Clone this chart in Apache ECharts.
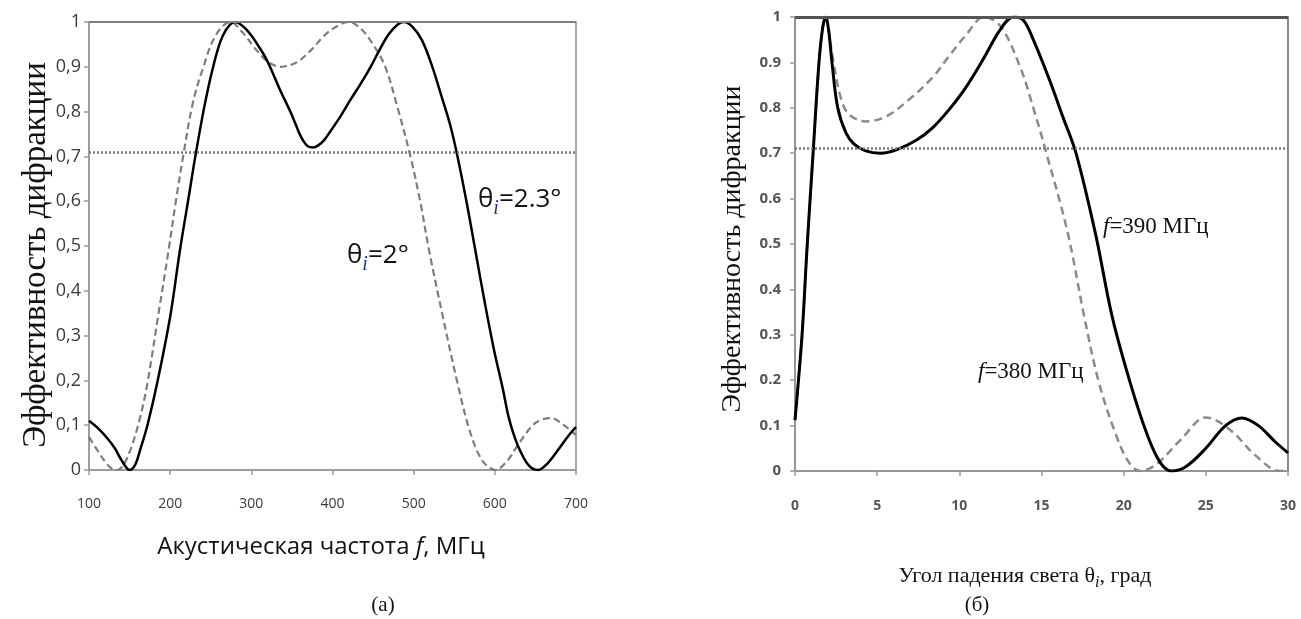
<!DOCTYPE html>
<html>
<head>
<meta charset="utf-8">
<title>Эффективность дифракции</title>
<script src="https://cdn.jsdelivr.net/npm/echarts@6/dist/echarts.min.js"></script>
<style>
  html, body { margin: 0; padding: 0; background: #fff; }
  #chart { width: 1301px; height: 619px; }
</style>
</head>
<body>
<div id="chart"></div>
<script>
// (а) diffraction efficiency vs acoustic frequency, MHz
const freqTheta23 = [100,110,122,132,140,150,157,163,172,184,200,212,222,231,242,253,265,280,290,300,310,317,323,335,348,355,360,365,370,376,382,390,397,410,422,435,447,458,469,480,488,498,510,523,535,545,554,565,576,588,599,610,617,625,632,642,653,665,678,690,700];
const effTheta23  = [0.11,0.095,0.072,0.048,0.022,0.0,0.012,0.045,0.1,0.194,0.342,0.49,0.6,0.7,0.81,0.9,0.97,1.0,0.99,0.97,0.943,0.922,0.9,0.85,0.8,0.77,0.748,0.732,0.722,0.72,0.724,0.737,0.755,0.79,0.826,0.863,0.9,0.938,0.972,0.994,1.0,0.99,0.96,0.9,0.83,0.77,0.7,0.6,0.49,0.37,0.268,0.18,0.118,0.07,0.04,0.01,0.0,0.015,0.045,0.075,0.096];

const freqTheta20 = [100,110,120,128,135,142,151,162,172,185,198,207,216,228,241,256,274,290,305,320,336,350,360,375,390,405,420,435,450,465,480,496,508,519,536,554,570,585,601,615,630,650,669,685,700];
const effTheta20  = [0.074,0.045,0.018,0.003,0.0,0.01,0.045,0.11,0.194,0.342,0.49,0.6,0.7,0.82,0.9,0.97,1.0,0.975,0.94,0.912,0.9,0.905,0.915,0.94,0.97,0.99,1.0,0.985,0.95,0.9,0.81,0.7,0.6,0.49,0.342,0.194,0.082,0.02,0.0,0.02,0.06,0.105,0.116,0.1,0.078];

// (б) diffraction efficiency vs light incidence angle, degrees
const angleF390 = [0,0.43,0.73,1.1,1.46,1.7,1.88,2.05,2.25,2.6,3.1,3.6,4.3,5.2,6.2,7.4,8.4,9.4,10.4,11.5,12.5,13.3,13.9,14.5,15.5,16.3,17.1,18.3,19.3,20.4,21.4,22.2,22.9,23.8,25.0,26.2,27.2,28.2,29.2,30];
const effF390   = [0.112,0.3,0.49,0.7,0.9,0.98,1.0,0.97,0.9,0.8,0.745,0.72,0.705,0.7,0.708,0.729,0.757,0.797,0.845,0.91,0.973,1.0,0.993,0.95,0.86,0.78,0.7,0.52,0.34,0.194,0.083,0.02,0.0,0.01,0.05,0.1,0.117,0.1,0.065,0.04];

const angleF380 = [0,0.43,0.73,1.1,1.46,1.7,1.88,2.05,2.3,2.8,3.3,4.3,5.5,7.0,8.4,9.4,10.4,11.5,12.5,13.7,14.5,15.3,16.6,17.6,18.5,19.5,20.3,21.0,22.0,23.5,25.0,26.5,28.0,29.5,30];
const effF380   = [0.112,0.3,0.49,0.7,0.9,0.98,1.0,0.97,0.91,0.82,0.785,0.77,0.78,0.82,0.868,0.915,0.96,1.0,0.98,0.89,0.8,0.7,0.524,0.34,0.194,0.083,0.02,0.0,0.015,0.07,0.118,0.09,0.035,0.0,0.003];

// reference levels: full efficiency and the half-power level 1/sqrt(2)
const levelFull = 1;
const levelHalfPower = 0.707;

// axis ranges and tick steps
const freqAxis  = { min: 100, max: 700, step: 100 };
const angleAxis = { min: 0, max: 30, step: 5 };
const effAxis   = { min: 0, max: 1, step: 0.1 };

// captions and texts
const captionA = '(a)';
const captionB = '(б)';
const yTitle = 'Эффективность дифракции';

const SANS = '"Open Sans", "DejaVu Sans", sans-serif';
const SERIF = '"Liberation Serif", "DejaVu Serif", serif';

const zip = (xs, ys) => xs.map((x, i) => [x, ys[i]]);

function axisStyle(color, width) {
  return {
    axisLine: { show: true, onZero: false, lineStyle: { color: color, width: width } },
    axisTick: { show: true, inside: false, length: 5, lineStyle: { color: color, width: width } },
    splitLine: { show: false }
  };
}

function levelLines(topColor, topWidth) {
  return {
    silent: true,
    symbol: 'none',
    label: { show: false },
    data: [
      { yAxis: levelFull, lineStyle: { color: topColor, width: topWidth, type: 'solid' } },
      { yAxis: levelHalfPower, lineStyle: { color: '#7a7a7a', width: 2.5, type: [2, 2] } }
    ]
  };
}

const chart = echarts.init(document.getElementById('chart'));

const subBlue = '#1d3b78';

chart.setOption({
  animation: false,
  backgroundColor: '#ffffff',
  grid: [
    { left: 89, top: 22, width: 487, height: 448, show: true, borderColor: '#8a8a8a', borderWidth: 1.5, backgroundColor: 'transparent' },
    { left: 795, top: 17, width: 493, height: 454, show: true, borderColor: '#8a8a8a', borderWidth: 2, backgroundColor: 'transparent' }
  ],
  xAxis: [
    Object.assign({
      type: 'value', gridIndex: 0,
      min: freqAxis.min, max: freqAxis.max, interval: freqAxis.step,
      axisLabel: { margin: 27, fontSize: 14, color: '#3a3a3a', fontFamily: SANS }
    }, axisStyle('#9a9a9a', 1.5)),
    Object.assign({
      type: 'value', gridIndex: 1,
      min: angleAxis.min, max: angleAxis.max, interval: angleAxis.step,
      axisLabel: { margin: 28, fontSize: 14, color: '#555', fontWeight: 'bold', fontFamily: SANS }
    }, axisStyle('#9a9a9a', 1.5))
  ],
  yAxis: [
    Object.assign({
      type: 'value', gridIndex: 0,
      min: effAxis.min, max: effAxis.max, interval: effAxis.step,
      axisLabel: {
        margin: 8, fontSize: 18, color: '#3a3a3a', fontFamily: SANS,
        formatter: v => String(Math.round(v * 10) / 10).replace('.', ',')
      }
    }, axisStyle('#9a9a9a', 1.5)),
    Object.assign({
      type: 'value', gridIndex: 1,
      min: effAxis.min, max: effAxis.max, interval: effAxis.step,
      axisLabel: {
        margin: 14, fontSize: 15, color: '#555', fontWeight: 'bold', fontFamily: SANS,
        formatter: v => String(Math.round(v * 10) / 10)
      }
    }, axisStyle('#9a9a9a', 1.5))
  ],
  series: [
    {
      name: 'θi=2°', type: 'line', xAxisIndex: 0, yAxisIndex: 0,
      data: zip(freqTheta20, effTheta20), smooth: 0.35, showSymbol: false,
      lineStyle: { color: '#7d7d7d', width: 2.2, type: [7, 4] }, z: 2,
      markLine: levelLines('#7f7f7f', 2)
    },
    {
      name: 'θi=2.3°', type: 'line', xAxisIndex: 0, yAxisIndex: 0,
      data: zip(freqTheta23, effTheta23), smooth: 0.35, showSymbol: false,
      lineStyle: { color: '#000', width: 2.5 }, z: 3
    },
    {
      name: 'f=380 МГц', type: 'line', xAxisIndex: 1, yAxisIndex: 1,
      data: zip(angleF380, effF380), smooth: 0.35, showSymbol: false,
      lineStyle: { color: '#8a8a8a', width: 2.5, type: [8, 5] }, z: 2,
      markLine: levelLines('#555555', 3)
    },
    {
      name: 'f=390 МГц', type: 'line', xAxisIndex: 1, yAxisIndex: 1,
      data: zip(angleF390, effF390), smooth: 0.35, showSymbol: false,
      lineStyle: { color: '#000', width: 3 }, z: 3
    }
  ],
  graphic: [
    // axis titles
    {
      type: 'text', x: 36, y: 255, rotation: Math.PI / 2,
      style: { text: yTitle, font: '33px ' + SERIF, fill: '#111', align: 'center', verticalAlign: 'middle', textAlign: 'center', textVerticalAlign: 'middle' }
    },
    {
      type: 'text', x: 733, y: 249, rotation: Math.PI / 2,
      style: { text: yTitle, font: '28px ' + SERIF, fill: '#111', align: 'center', verticalAlign: 'middle', textAlign: 'center', textVerticalAlign: 'middle' }
    },
    {
      type: 'text', x: 321, y: 547,
      style: {
        text: '{n|Акустическая частота }{it|f}{n|, МГц}',
        align: 'center', verticalAlign: 'middle', textAlign: 'center', textVerticalAlign: 'middle',
        rich: {
          n: { fontFamily: SANS, fontSize: 24, fill: '#111' },
          it: { fontFamily: SANS, fontSize: 24, fontStyle: 'italic', fill: '#111' }
        }
      }
    },
    {
      type: 'text', x: 1025, y: 576,
      style: {
        text: '{n|Угол падения света θ}{s|i}{n|, град}',
        align: 'center', verticalAlign: 'middle', textAlign: 'center', textVerticalAlign: 'middle',
        rich: {
          n: { fontFamily: SERIF, fontSize: 22, fill: '#111', lineHeight: 30 },
          s: { fontFamily: SERIF, fontSize: 16, fontStyle: 'italic', fill: '#111', verticalAlign: 'bottom', lineHeight: 16 }
        }
      }
    },
    // curve annotations
    {
      type: 'text', x: 478, y: 200,
      style: {
        text: '{g|θ}{s|i}{g|=2.3°}',
        align: 'left', verticalAlign: 'middle', textAlign: 'left', textVerticalAlign: 'middle',
        rich: {
          g: { fontFamily: SANS, fontSize: 26, fill: '#111', lineHeight: 38 },
          s: { fontFamily: SERIF, fontSize: 20, fontStyle: 'italic', fill: subBlue, verticalAlign: 'bottom', lineHeight: 20 }
        }
      }
    },
    {
      type: 'text', x: 347, y: 256,
      style: {
        text: '{g|θ}{s|i}{g|=2°}',
        align: 'left', verticalAlign: 'middle', textAlign: 'left', textVerticalAlign: 'middle',
        rich: {
          g: { fontFamily: SANS, fontSize: 26, fill: '#111', lineHeight: 38 },
          s: { fontFamily: SERIF, fontSize: 20, fontStyle: 'italic', fill: subBlue, verticalAlign: 'bottom', lineHeight: 20 }
        }
      }
    },
    {
      type: 'text', x: 1103, y: 227,
      style: {
        text: '{it|f}{n|=390 МГц}',
        align: 'left', verticalAlign: 'middle', textAlign: 'left', textVerticalAlign: 'middle',
        rich: {
          n: { fontFamily: SERIF, fontSize: 23, fill: '#111' },
          it: { fontFamily: SERIF, fontSize: 23, fontStyle: 'italic', fill: '#111' }
        }
      }
    },
    {
      type: 'text', x: 978, y: 372,
      style: {
        text: '{it|f}{n|=380 МГц}',
        align: 'left', verticalAlign: 'middle', textAlign: 'left', textVerticalAlign: 'middle',
        rich: {
          n: { fontFamily: SERIF, fontSize: 23, fill: '#111' },
          it: { fontFamily: SERIF, fontSize: 23, fontStyle: 'italic', fill: '#111' }
        }
      }
    },
    // panel captions
    {
      type: 'text', x: 383, y: 605,
      style: { text: captionA, font: '21px ' + SERIF, fill: '#111', align: 'center', verticalAlign: 'middle', textAlign: 'center', textVerticalAlign: 'middle' }
    },
    {
      type: 'text', x: 977, y: 605,
      style: { text: captionB, font: '21px ' + SERIF, fill: '#111', align: 'center', verticalAlign: 'middle', textAlign: 'center', textVerticalAlign: 'middle' }
    }
  ]
});
</script>
</body>
</html>
